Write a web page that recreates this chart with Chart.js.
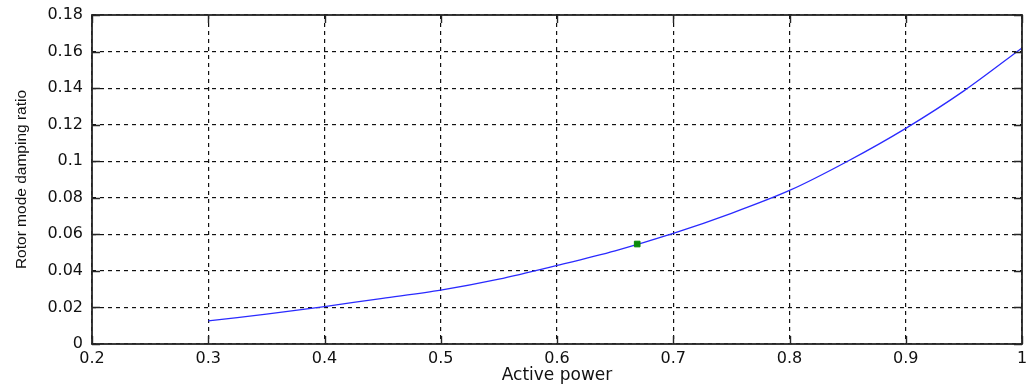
<!DOCTYPE html>
<html>
<head>
<meta charset="utf-8">
<script src="https://cdn.jsdelivr.net/npm/chart.js@4/dist/chart.umd.min.js"></script>
<style>
  html, body { margin: 0; padding: 0; background: #fff; }
  #wrap { width: 1027px; height: 390px; }
</style>
</head>
<body>
<div id="wrap"><canvas id="c" width="1027" height="390"></canvas></div>
<script>
// Active power sweep and the resulting rotor mode damping ratio
const activePower = [0.30, 0.35, 0.40, 0.45, 0.50, 0.55, 0.60, 0.65, 0.70, 0.75, 0.80, 0.85, 0.90, 0.95, 1.00];
const dampingRatio = [0.0126, 0.0163, 0.0205, 0.0250, 0.0295, 0.0355, 0.0430, 0.0510, 0.0605, 0.0715, 0.0840, 0.1000, 0.1180, 0.1385, 0.1620];

// Operating point marker
const opPower = [0.669];
const opDamping = [0.0547];

const xTicks = [0.2, 0.3, 0.4, 0.5, 0.6, 0.7, 0.8, 0.9, 1.0];
const yTicks = [0, 0.02, 0.04, 0.06, 0.08, 0.1, 0.12, 0.14, 0.16, 0.18];

const curve = activePower.map((p, i) => ({ x: p, y: dampingRatio[i] }));
const marker = opPower.map((p, i) => ({ x: p, y: opDamping[i] }));

const tickFont = { family: 'DejaVu Sans', size: 16 };

// Box around the axes with short inward tick marks on all four sides
const boxTicks = {
  id: 'boxTicks',
  afterDatasetsDraw(chart) {
    const { ctx, chartArea: a, scales } = chart;
    const len = 8;
    ctx.save();
    ctx.strokeStyle = '#262626';
    ctx.lineWidth = 1.4;
    ctx.setLineDash([]);
    ctx.beginPath();
    xTicks.forEach(v => {
      const px = Math.round(scales.x.getPixelForValue(v)) + 0.5;
      ctx.moveTo(px, a.bottom); ctx.lineTo(px, a.bottom - len);
      ctx.moveTo(px, a.top); ctx.lineTo(px, a.top + len);
    });
    yTicks.forEach(v => {
      const py = Math.round(scales.y.getPixelForValue(v)) + 0.5;
      ctx.moveTo(a.left, py); ctx.lineTo(a.left + len, py);
      ctx.moveTo(a.right, py); ctx.lineTo(a.right - len, py);
    });
    ctx.stroke();
    ctx.lineWidth = 1.8;
    ctx.strokeRect(a.left, a.top, a.right - a.left, a.bottom - a.top);
    ctx.restore();
  }
};

new Chart(document.getElementById('c'), {
  type: 'scatter',
  data: {
    datasets: [
      {
        data: curve,
        showLine: true,
        borderColor: '#2a2aff',
        borderWidth: 1.3,
        pointRadius: 0,
        tension: 0.3,
        order: 2
      },
      {
        data: marker,
        showLine: false,
        pointStyle: 'rect',
        pointRadius: 4,
        borderWidth: 1,
        backgroundColor: '#0a8a0a',
        borderColor: '#0a8a0a',
        order: 1
      }
    ]
  },
  options: {
    responsive: false,
    animation: false,
    devicePixelRatio: 1,
    layout: { padding: { top: 15, right: 5, left: 0, bottom: 0 } },
    plugins: { legend: { display: false }, tooltip: { enabled: false } },
    scales: {
      x: {
        type: 'linear',
        min: 0.2, max: 1.0,
        afterFit(s) { s.height = 46; s.paddingLeft = 0; s.paddingRight = 0; },
        afterBuildTicks(s) { s.ticks = xTicks.map(v => ({ value: v })); },
        border: { display: false, dash: [4, 4] },
        grid: { color: '#111', lineWidth: 1.2, drawTicks: false },
        ticks: {
          color: '#111', padding: 5,
          font: tickFont,
          callback: v => String(Math.round(v * 10) / 10),
          maxRotation: 0
        },
        title: {
          display: true, text: 'Active power', color: '#111',
          font: { family: 'DejaVu Sans', size: 17 },
          padding: { top: 0, bottom: 4 }
        }
      },
      y: {
        min: 0, max: 0.18,
        afterFit(s) { s.width = 92; s.paddingTop = 0; s.paddingBottom = 0; },
        afterBuildTicks(s) { s.ticks = yTicks.map(v => ({ value: v })); },
        border: { display: false, dash: [4, 4] },
        grid: { color: '#111', lineWidth: 1.2, drawTicks: false },
        ticks: {
          color: '#111', padding: 9,
          font: tickFont,
          callback: v => String(Math.round(v * 100) / 100)
        },
        title: {
          display: true, text: 'Rotor mode damping ratio', color: '#111',
          font: { family: 'Liberation Sans', size: 15.5 },
          padding: { top: 12, bottom: 0 }
        }
      }
    }
  },
  plugins: [boxTicks]
});
</script>
</body>
</html>
